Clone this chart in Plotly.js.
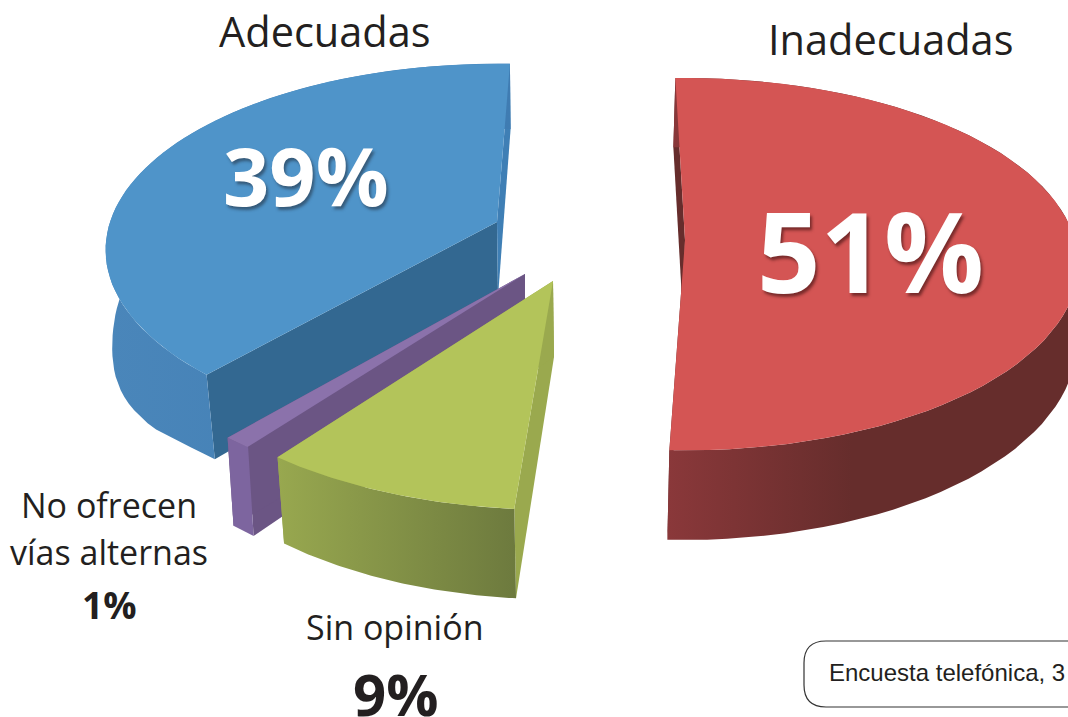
<!DOCTYPE html>
<html><head><meta charset="utf-8">
<script src="https://cdn.plot.ly/plotly-3.0.1.min.js"></script>
<style>html,body{margin:0;padding:0;background:#fff;overflow:hidden}#c{width:1068px;height:717px}</style>
</head><body><div id="c"></div>
<script>
// Data
const categories = ["Inadecuadas", "Sin opinión", "No ofrecen vías alternas", "Adecuadas"];
const values = [51, 9, 1, 39];

// 3-D pie styling (one entry per slice, in the same order)
const apexX = [685, 553, 525, 497];
const apexY = [240, 281, 274, 222];
const radiusX = [390, 402, 405, 387];
const radiusY = [183, 194.5, 191, 182];
const tilt = [0.13, 0.15, 0.15, 0.15];
const rotation = [-1.6, 1.1, 1.0, 2.2];
const depth = [78, 76, 78, 75];
const wallShrink = [1.0, 0.98, 0.98, 0.975];
const wallShift = [-2, 1, 0, 1];
const wallBulge = [0, 0, 0, 18];
const bulgeAngle = [0, 0, 0, 237];
const topColor = ["#d45554", "#b3c45a", "#8b72ab", "#4f94c9"];
const startWall = ["#662d2c", "#9aa94e", "#6b5584", "#336891"];
const endWall = ["#662d2c", "#9aa94e", "#6b5584", "#3f7fb5"];
const arcWallScale = [
  [[0, "#8a383a"], [0.45, "#662d2c"], [1, "#662d2c"]],
  [[0, "#98a84f"], [1, "#6d7a3e"]],
  [[0, "#7d659f"], [1, "#7d659f"]],
  [[0, "#4a86ba"], [1, "#3f7cb2"]]
];

function project(i, deg) {
  const t = deg * Math.PI / 180, s = 1 / (1 + tilt[i] * Math.cos(t));
  return { x: apexX[i] + radiusX[i] * Math.sin(t) * s, y: apexY[i] - radiusY[i] * Math.cos(t) * s, s, deg };
}
function lower(i, p, a) {
  const bump = wallBulge[i] * Math.exp(-Math.pow((p.deg - bulgeAngle[i]) / 18, 2)) * Math.min(1, (p.deg - a) / 10);
  return { x: apexX[i] + (p.x - apexX[i]) * wallShrink[i] + wallShift[i] - bump, y: p.y + depth[i] * p.s };
}
function poly(pts, fill, gradient) {
  const tr = { type: "scatter", mode: "lines", x: pts.map(p => p.x), y: pts.map(p => p.y),
    fill: "toself", fillcolor: fill, line: { width: 0, color: fill }, hoverinfo: "skip", showlegend: false };
  if (gradient) tr.fillgradient = { type: "horizontal", colorscale: gradient };
  return tr;
}

const traces = [];
let cum = 0;
const slices = values.map((v, i) => { const a = cum * 3.6 + rotation[i]; cum += v; return { a, b: a + v * 3.6 }; });

function drawSlice(i) {
  const { a, b } = slices[i], n = 72, arc = [];
  for (let k = 0; k <= n; k++) arc.push(project(i, a + (b - a) * k / n));
  const low = arc.map(p => lower(i, p, a));
  const apex = { x: apexX[i], y: apexY[i] };
  const apexLow = { x: apexX[i] + wallShift[i], y: apexY[i] + depth[i] };
  // radial wall at the start of the slice
  traces.push(poly([apex, arc[0], low[0], apexLow, apex], startWall[i]));
  // radial wall at the end of the slice
  traces.push(poly([apex, arc[n], low[n], apexLow, apex], endWall[i]));
  // outer curved wall
  traces.push(poly(arc.concat(low.slice().reverse(), [arc[0]]), arcWallScale[i][0][1], arcWallScale[i]));
  // top face
  traces.push(poly([apex].concat(arc, [apex]), topColor[i]));
}
[0, 3, 2, 1].forEach(drawSlice);

const dark = "#231f20", sans = "'Open Sans', sans-serif";
const note = (x, y, text, size, color, weight, family, anchor, shadow) => ({
  x, y, text, xref: "x", yref: "y", showarrow: false, xanchor: anchor || "center", yanchor: "middle",
  font: Object.assign({ size, color, family: family || sans, weight: weight || 400 }, shadow ? { shadow } : {})
});
const annotations = [
  note(325, 31, categories[3], 41.5, dark),
  note(890, 39, categories[0], 41.5, dark),
  note(109, 505, "No ofrecen", 34, dark),
  note(109, 552, "vías alternas", 34, dark),
  note(109, 604, values[2] + "%", 37, dark, 700),
  note(395, 627, categories[1], 34, dark),
  note(395, 693, values[1] + "%", 58, dark, 700),
  note(306, 174, values[3] + "%", 81, "#ffffff", 700, null, null, "2px 3px 3px rgba(40,60,80,0.65)"),
  note(870, 250, values[0] + "%", 111, "#ffffff", 700, null, null, "2px 3px 3px rgba(70,20,20,0.65)"),
  note(827, 672, "Encuesta telefónica, 3", 24, dark, 400, "'Liberation Sans', Arial, sans-serif", "left")
];

const layout = {
  width: 1068, height: 717, margin: { l: 0, r: 0, t: 0, b: 0 },
  paper_bgcolor: "#ffffff", plot_bgcolor: "#ffffff", showlegend: false,
  xaxis: { range: [0, 1068], visible: false, fixedrange: true },
  yaxis: { range: [717, 0], visible: false, fixedrange: true },
  annotations,
  shapes: [{ type: "path", xref: "x", yref: "y",
    path: "M 1100 641 L 826 641 Q 804 641 804 663 L 804 685 Q 804 707 826 707 L 1100 707",
    line: { color: "#333333", width: 1.2 }, fillcolor: "rgba(0,0,0,0)" }]
};
Plotly.newPlot("c", traces, layout, { displayModeBar: false, staticPlot: true });
</script></body></html>
